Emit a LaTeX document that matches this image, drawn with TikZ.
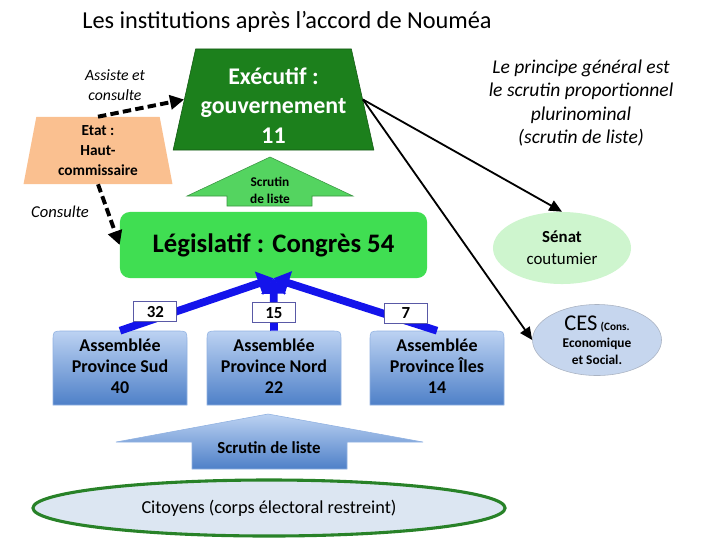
\documentclass[tikz,border=0pt]{standalone}
\usepackage{fontspec}
\setmainfont{Carlito}
\usepackage{tikz}
\usetikzlibrary{arrows.meta}
\usetikzlibrary{shapes.geometric}

\definecolor{execgreen}{RGB}{28,128,28}
\definecolor{etatorange}{RGB}{250,192,144}
\definecolor{legisgreen}{RGB}{64,222,82}
\definecolor{arrowgreen}{RGB}{84,212,96}
\definecolor{senatgreen}{RGB}{206,245,206}
\definecolor{cesblue}{RGB}{198,214,238}
\definecolor{provtop}{RGB}{188,210,242}
\definecolor{provbottom}{RGB}{78,128,200}
\definecolor{citblue}{RGB}{220,230,242}
\definecolor{citgreen}{RGB}{40,130,40}
\definecolor{arrowblue}{RGB}{20,20,235}

\begin{document}
\begin{tikzpicture}[x=0.025cm, y=-0.025cm,
        dasharrow/.style={draw=black, line width=2.8pt, dash pattern=on 6pt off 3pt, -{Triangle[length=10pt,width=10pt]}},
        thinarrow/.style={draw=black, line width=1.3pt, -{Triangle[length=9pt,width=8pt]}},
        seatarrow/.style={draw=arrowblue, line width=5.5pt, -{Triangle[length=11pt,width=17pt]}},
        numbox/.style={draw=gray!70!blue, line width=0.6pt, fill=white, minimum width=1.075cm, minimum height=0.5cm,
            inner sep=0pt, font=\bfseries\fontsize{12}{14}\selectfont},
        provbox/.style={top color=provtop, bottom color=provbottom, draw=provtop!60!provbottom},
        provtxt/.style={minimum width=3.35cm, minimum height=1.75cm, align=center, font=\bfseries\fontsize{12.8}{15}\selectfont},
        note/.style={align=center, font=\itshape\fontsize{11.2}{14}\selectfont}]
        \useasboundingbox (0,0) rectangle (720,540);

        % Titre
        \node[font=\fontsize{17.3}{20}\selectfont] (titre) at (287,22) {Les institutions après l’accord de Nouméa};

        % Exécutif et Etat
        \node[trapezium, trapezium left angle=76.6, trapezium right angle=76.6, trapezium stretches=true,
            minimum width=5.025cm, minimum height=2.525cm, inner sep=1pt, fill=execgreen, draw=execgreen!70!black,
            text=white, align=center, font=\bfseries\fontsize{17}{21}\selectfont] (exec) at (273.5,99.5)
            {\rule{0pt}{20pt}Exécutif :\\gouvernement\\11};
        \node[trapezium, trapezium left angle=80.7, trapezium right angle=80.7, trapezium stretches=true,
            minimum width=3.75cm, minimum height=1.675cm, inner sep=1pt, fill=etatorange,
            align=center, font=\bfseries\fontsize{10.9}{14}\selectfont] (etat) at (98,150.5) {Etat :\\Haut-\\commissaire};
        \node[note] (assiste) at (115,85) {Assiste et\\consulte};
        \node[note, font=\itshape\fontsize{11.8}{14}\selectfont] (consulte) at (60,212) {Consulte};

        % Scrutin de liste (congrès -> gouvernement)
        \filldraw[fill=arrowgreen, draw=arrowgreen!70!black] (270,157) -- (353,196) -- (312,196) -- (312,206)
            -- (227,206) -- (227,196) -- (187,196) -- cycle;
        \node[align=center, font=\bfseries\fontsize{9.5}{12}\selectfont] (scrutinA) at (270,190) {Scrutin\\de liste};

        % Législatif
        \node[fill=legisgreen, rounded corners=7pt, minimum width=7.675cm, minimum height=1.65cm,
            font=\bfseries\fontsize{19}{22}\selectfont] (legis) at (273.5,245) {Législatif : Congrès 54};

        % Provinces
        \begin{scope}[shift={(0,0)}]
            \shadedraw[provbox] (53,405) -- (53,341) .. controls (53,331) .. (63,331) -- (177,331)
                .. controls (187,331) .. (187,341) -- (187,405) -- cycle;
            \node[provtxt] (sud) at (120,366) {Assemblée\\Province Sud\\40};
        \end{scope}
        \begin{scope}[shift={(154,0)}]
            \shadedraw[provbox] (53,405) -- (53,341) .. controls (53,331) .. (63,331) -- (177,331)
                .. controls (187,331) .. (187,341) -- (187,405) -- cycle;
            \node[provtxt] (nord) at (120,366) {Assemblée\\Province Nord\\22};
        \end{scope}
        \begin{scope}[shift={(317,0)}]
            \shadedraw[provbox] (53,405) -- (53,341) .. controls (53,331) .. (63,331) -- (177,331)
                .. controls (187,331) .. (187,341) -- (187,405) -- cycle;
            \node[provtxt] (iles) at (120,366) {Assemblée\\Province Îles\\14};
        \end{scope}

        % Sièges au congrès
        \draw[seatarrow] (sud.north) -- node[numbox, pos=0.23, yshift=5pt] (n32) {32} (legis.south);
        \draw[seatarrow] (nord.north) -- node[numbox, pos=0.34] (n15) {15} (legis.south);
        \draw[seatarrow] (iles.north) -- node[numbox, pos=0.19, yshift=5.5pt] (n7) {7} (legis.south);

        % Scrutin de liste (citoyens -> provinces)
        \shadedraw[provbox] (268,414) -- (423,442) -- (347,442) -- (347,469) -- (192,469) -- (192,442) -- (116,442) -- cycle;
        \node[font=\bfseries\fontsize{12}{14}\selectfont] (scrutinB) at (269,448) {Scrutin de liste};

        % Citoyens
        \node[ellipse, minimum width=11.8cm, minimum height=1.4cm, fill=citblue, draw=citgreen, line width=2.2pt,
            font=\fontsize{13}{15}\selectfont] (citoyens) at (269,508) {Citoyens (corps électoral restreint)};

        % Sénat coutumier et CES
        \node[note, font=\itshape\fontsize{13.9}{16.8}\selectfont] (principe) at (581,103)
            {Le principe général est\\le scrutin proportionnel\\plurinominal\\(scrutin de liste)};
        \node[ellipse, minimum width=3.45cm, minimum height=1.8cm, fill=senatgreen, align=center,
            font=\fontsize{12}{15.6}\selectfont] (senat) at (562,248) {\textbf{Sénat}\\coutumier};
        \node[ellipse, minimum width=3.225cm, minimum height=1.775cm, inner sep=0pt, fill=cesblue, draw=cesblue!60!gray,
            align=center, font=\bfseries\fontsize{9.5}{12}\selectfont] (ces) at (597,340)
            {{\mdseries\fontsize{16}{18}\selectfont CES} {\fontsize{8}{10}\selectfont (Cons.}\\Economique\\et Social.};

        % Liens
        \draw[dasharrow] (etat.north) -- (exec.west);
        \draw[dasharrow] (etat.south) -- (legis.west);
        \draw[thinarrow] (exec.east) -- (senat.north);
        \draw[thinarrow] (exec.east) -- (ces.west);
    \end{tikzpicture}
\end{document}
